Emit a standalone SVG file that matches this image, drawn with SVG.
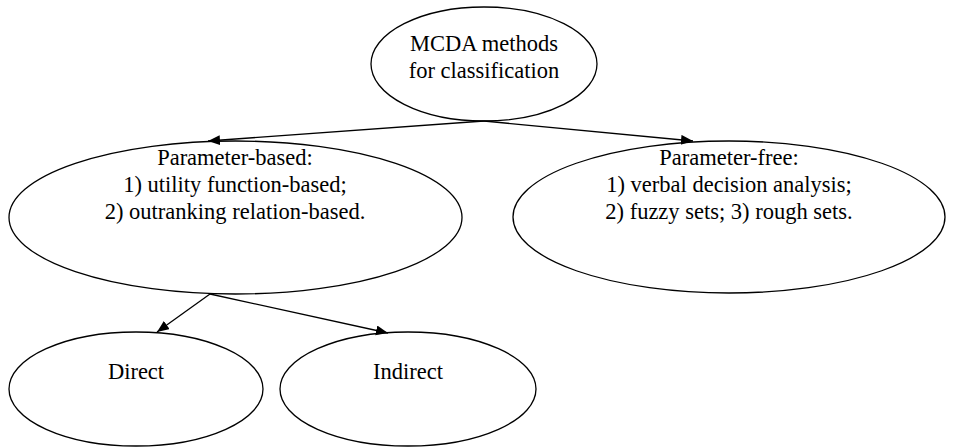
<svg xmlns="http://www.w3.org/2000/svg" width="956" height="447" viewBox="0 0 956 447">
<style>
.node ellipse{fill:#fff;stroke:#000;stroke-width:1.3}
.node text{font-family:'Liberation Serif','DejaVu Serif',serif;font-size:22.5px;fill:#000;text-anchor:middle}
.conn line{stroke:#000;stroke-width:1.3;marker-end:url(#arr)}
</style>
<defs>
<marker id="arr" markerUnits="userSpaceOnUse" markerWidth="13" markerHeight="11" refX="12" refY="5" orient="auto">
<path d="M0,0 L12,5 L0,10 z" fill="#000"/>
</marker>
</defs>
<rect width="956" height="447" fill="#fff"/>
<g id="n-root" class="node">
<ellipse cx="484" cy="64" rx="113" ry="57"/>
<text x="484" y="51">MCDA methods</text>
<text x="484" y="78">for classification</text>
</g>
<g id="n-param" class="node">
<ellipse cx="235.5" cy="217.5" rx="226.5" ry="76.5"/>
<text x="235" y="165">Parameter-based:</text>
<text x="235" y="192">1) utility function-based;</text>
<text x="235" y="219">2) outranking relation-based.</text>
</g>
<g id="n-free" class="node">
<ellipse cx="729" cy="217" rx="216" ry="76"/>
<text x="729" y="165">Parameter-free:</text>
<text x="729" y="192">1) verbal decision analysis;</text>
<text x="729" y="219">2) fuzzy sets; 3) rough sets.</text>
</g>
<g id="n-direct" class="node">
<ellipse cx="136" cy="389" rx="127" ry="57"/>
<text x="136" y="379">Direct</text>
</g>
<g id="n-indirect" class="node">
<ellipse cx="408" cy="389" rx="128" ry="57"/>
<text x="408" y="379">Indirect</text>
</g>
<g id="connectors" class="conn">
<line x1="484" y1="121" x2="208" y2="141"/>
<line x1="484" y1="121" x2="693" y2="141"/>
<line x1="210" y1="294" x2="157" y2="332"/>
<line x1="210" y1="294" x2="388" y2="333"/>
</g>
</svg>
